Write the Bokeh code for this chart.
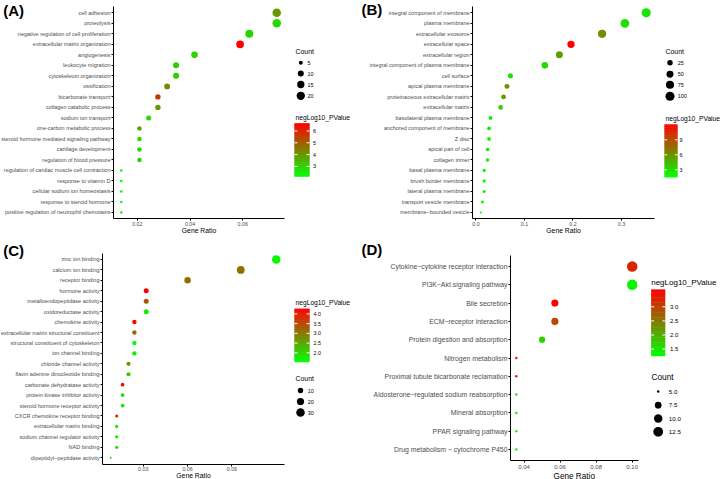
import numpy as np
from bokeh.plotting import figure
from bokeh.models import (ColumnDataSource, Range1d, FixedTicker,
                          PrintfTickFormatter, LinearColorMapper, Label)
from bokeh.layouts import row, column
from bokeh.core.properties import value
from bokeh.embed import file_html
from bokeh.resources import INLINE

# ---------------- data ----------------
A_terms = ["cell adhesion", "proteolysis", "negative regulation of cell proliferation",
           "extracellular matrix organization", "angiogenesis", "leukocyte migration",
           "cytoskeleton organization", "ossification", "bicarbonate transport",
           "collagen catabolic process", "sodium ion transport", "one-carbon metabolic process",
           "steroid hormone mediated signaling pathway", "cartilage development",
           "regulation of blood pressure", "regulation of cardiac muscle cell contraction",
           "response to vitamin D", "cellular sodium ion homeostasis",
           "response to steroid hormone", "positive regulation of neutrophil chemotaxis"]
A_ratio = [0.0729, 0.0729, 0.0625, 0.0590, 0.0417, 0.0347, 0.0347, 0.0313, 0.0278, 0.0278,
           0.0243, 0.0208, 0.0208, 0.0208, 0.0208, 0.0139, 0.0139, 0.0139, 0.0139, 0.0139]
A_count = [21, 21, 18, 17, 12, 10, 10, 9, 8, 8, 7, 6, 6, 6, 6, 4, 4, 4, 4, 4]
A_logp = [3.95, 2.80, 2.90, 6.66, 2.95, 3.00, 3.00, 4.30, 5.65, 3.95,
          2.80, 3.70, 2.80, 2.80, 2.80, 2.30, 2.25, 2.30, 2.12, 2.30]
A_breaks = [5, 10, 15, 20]
A_break_labels = ["5", "10", "15", "20"]
A_xticks = [0.02, 0.04, 0.06]
A_cticks = [3, 4, 5, 6]

B_terms = ["integral component of membrane", "plasma membrane", "extracellular exosome",
           "extracellular space", "extracellular region", "integral component of plasma membrane",
           "cell surface", "apical plasma membrane", "proteinaceous extracellular matrix",
           "extracellular matrix", "basolateral plasma membrane", "anchored component of membrane",
           "Z disc", "apical part of cell", "collagen trimer", "basal plasma membrane",
           "brush border membrane", "lateral plasma membrane", "transport vesicle membrane",
           "membrane\u2212bounded vesicle"]
B_ratio = [0.351, 0.307, 0.260, 0.196, 0.172, 0.142, 0.071, 0.064, 0.057, 0.051,
           0.030, 0.027, 0.027, 0.024, 0.024, 0.017, 0.017, 0.017, 0.0135, 0.010]
B_count = [104, 91, 77, 58, 51, 42, 21, 19, 17, 15, 9, 8, 8, 7, 7, 5, 5, 5, 4, 3]
B_logp = [2.5, 2.7, 6.2, 12.06, 5.5, 3.05, 2.7, 6.2, 5.5, 3.4,
          2.3, 2.1, 2.1, 2.3, 2.3, 2.0, 2.0, 2.0, 1.8, 1.46]
B_breaks = [25, 50, 75, 100]
B_break_labels = ["25", "50", "75", "100"]
B_xticks = [0.0, 0.1, 0.2, 0.3]
B_cticks = [3, 6, 9]

C_terms = ["zinc ion binding", "calcium ion binding", "receptor binding", "hormone activity",
           "metalloendopeptidase activity", "oxidoreductase activity", "chemokine activity",
           "extracellular matrix structural constituent", "structural constituent of cytoskeleton",
           "ion channel binding", "chloride channel activity", "flavin adenine dinucleotide binding",
           "carbonate dehydratase activity", "protein kinase inhibitor activity",
           "steroid hormone receptor activity", "CXCR chemokine receptor binding",
           "extracellular matrix binding", "sodium channel regulator activity", "NAD binding",
           "dipeptidyl\u2212peptidase activity"]
C_ratio = [0.120, 0.096, 0.060, 0.032, 0.032, 0.032, 0.024, 0.024, 0.024, 0.024,
           0.020, 0.020, 0.016, 0.016, 0.016, 0.012, 0.012, 0.012, 0.012, 0.008]
C_count = [30, 24, 15, 8, 8, 8, 6, 6, 6, 6, 5, 5, 4, 4, 4, 3, 3, 3, 3, 2]
C_logp = [1.60, 3.03, 3.11, 4.26, 3.30, 1.74, 4.20, 3.16, 1.52, 1.66,
          2.75, 2.07, 4.12, 1.85, 1.85, 3.71, 1.80, 1.80, 1.85, 1.80]
C_breaks = [10, 20, 30]
C_break_labels = ["10", "20", "30"]
C_xticks = [0.03, 0.06, 0.09]
C_cticks = [2.0, 2.5, 3.0, 3.5, 4.0]

D_terms = ["Cytokine\u2212cytokine receptor interaction", "PI3K\u2212Akt signaling pathway",
           "Bile secretion", "ECM\u2212receptor interaction", "Protein digestion and absorption",
           "Nitrogen metabolism", "Proximal tubule bicarbonate reclamation",
           "Aldosterone\u2212regulated sodium reabsorption", "Mineral absorption",
           "PPAR signaling pathway", "Drug metabolism \u2212 cytochrome P450"]
D_ratio = [0.100, 0.100, 0.0571, 0.0571, 0.050, 0.0357, 0.0357, 0.0357, 0.0357, 0.0357, 0.0357]
D_count = [14, 14, 8, 8, 7, 5, 5, 5, 5, 5, 5]
D_logp = [3.26, 1.35, 3.61, 2.95, 1.72, 3.50, 3.50, 1.55, 1.30, 1.25, 1.30]
D_breaks = [5.0, 7.5, 10.0, 12.5]
D_break_labels = ["5.0", "7.5", "10.0", "12.5"]
D_xticks = [0.04, 0.06, 0.08, 0.10]
D_cticks = [1.5, 2.0, 2.5, 3.0]

# ---------------- styling / layout ----------------
FONT = "Liberation Sans"
PAL = ["#%02x%02x00" % (int(round(255 * t)), int(round(255 * (1 - t))))
       for t in np.linspace(0, 1, 256)]


def px(v):
    return "%.2fpx" % v


def build_panel(tag, terms, ratio, count, logp, xticks, xfmt, breaks, break_labels,
                cticks, cfmt, g):
    W, H, mw = g["pw"], g["ph"], g["mw"]
    lw = W - mw
    fl, fr, ft, fb = g["fl"], g["fr"], g["ft"], g["fb"]
    n = len(terms)

    lo, hi = min(ratio), max(ratio)
    pad = 0.05 * (hi - lo)
    x0, x1 = lo - pad, hi + pad
    kx = (fr - fl) / (x1 - x0)
    X0, X1 = x0 - fl / kx, x1 + (mw - fr) / kx
    ylo, yhi = -0.6, n - 1 + 0.6
    ky = (fb - ft) / (yhi - ylo)
    Y0, Y1 = ylo - (H - fb) / ky, yhi + ft / ky

    def dx(v):
        return X0 + v / kx

    def dy(v):
        return Y1 - v / ky

    ypos = [n - 1 - i for i in range(n)]
    cmin, cmax = min(count), max(count)
    plo, phi = min(logp), max(logp)

    def size_of(c):
        c = np.asarray(c, dtype=float)
        return g["sa"] + g["sb"] * np.sqrt(np.clip((c - cmin) / (cmax - cmin), 0, None))

    mapper = LinearColorMapper(palette=PAL, low=plo, high=phi)
    src = ColumnDataSource(dict(term=terms, pos=ypos, ratio=ratio, count=count, logp=logp,
                                size=size_of(count)))
    p = figure(width=mw, height=H, x_range=Range1d(X0, X1), y_range=Range1d(Y0, Y1),
               output_backend="svg", toolbar_location=None, min_border=0)
    p.scatter("ratio", "pos", size="size", source=src,
              fill_color={"field": "logp", "transform": mapper}, line_color=None)
    p.outline_line_color = None
    p.xgrid.grid_line_color = None
    p.ygrid.grid_line_color = None
    for ax in (p.xaxis[0], p.yaxis[0]):
        ax.axis_line_color = "black"
        ax.axis_line_width = 1
        ax.major_tick_line_color = "black"
        ax.major_tick_out = 2
        ax.major_tick_in = 0
        ax.minor_tick_line_color = None
        ax.major_label_text_font = FONT
        ax.major_label_text_color = "#4d4d4d"
    # y axis: categories, drawn at the left edge of the data area
    p.yaxis.fixed_location = x0
    p.yaxis.bounds = (ylo, yhi)
    p.yaxis.ticker = FixedTicker(ticks=ypos)
    p.yaxis.major_label_overrides = {pos: t for pos, t in zip(ypos, terms)}
    p.yaxis.major_label_text_font_size = px(g["ylfs"])
    p.yaxis.major_label_standoff = 1
    # x axis: gene ratio
    p.xaxis.fixed_location = ylo
    p.xaxis.bounds = (x0, x1)
    p.xaxis.ticker = FixedTicker(ticks=xticks)
    p.xaxis.formatter = PrintfTickFormatter(format=xfmt)
    p.xaxis.major_label_text_font_size = px(g["xtfs"])
    p.xaxis.major_label_standoff = g["xls"]
    p.add_layout(Label(x=dx((fl + fr) / 2), y=dy(g["gly"]), text="Gene Ratio",
                       text_font=FONT, text_font_size=px(g["xlfs"]),
                       text_baseline="middle", text_align="center", text_color="black"))
    # panel tag
    p.add_layout(Label(x=dx(g["tx"]), y=dy(g["ty"]), text=tag,
                       text_font=FONT, text_font_size=px(g["tfs"]),
                       text_font_style="bold", text_baseline="middle",
                       text_align="left", text_color="black"))

    # legend figure (1 data unit = 1 px, y downwards)
    lg = figure(width=lw, height=H, x_range=Range1d(0, lw), y_range=Range1d(H, 0),
                min_border=0, x_axis_type=None, y_axis_type=None,
                output_backend="svg", toolbar_location=None)
    lg.outline_line_color = None

    def lx(v):
        return v - mw

    txt = dict(text_font=value(FONT), text_baseline="middle", text_align="left",
               text_color="black")
    # size legend
    lg.text(x=[lx(g["ctx"])], y=[g["cty"]], text=["Count"],
            text_font_size=value(px(g["cfs"])), **txt)
    lg.scatter(x=[lx(g["ccx"])] * len(breaks), y=g["cys"], size=size_of(breaks),
               fill_color="black", line_color=None)
    lg.text(x=[lx(g["clx"])] * len(breaks), y=g["cys"], text=break_labels,
            text_font_size=value(px(g["clfs"])), **txt)

    # colour bar
    cbl, cbr = lx(g["cbl"]), lx(g["cbl"]) + g["cbw"]
    cbt, cbb = g["cbt"], g["cbb"]
    lg.text(x=[lx(g["cbtx"])], y=[g["cbty"]], text=["negLog10_PValue"],
            text_font_size=value(px(g["cbtfs"])), **txt)
    nseg = 80
    edges = np.linspace(cbb, cbt, nseg + 1)
    segcols = [PAL[int(round(i / (nseg - 1) * 255))] for i in range(nseg)]
    lg.quad(left=cbl, right=cbr, bottom=edges[:-1], top=np.maximum(edges[1:] - 0.6, cbt),
            fill_color=segcols, line_color=None)

    def vy(v):
        return cbb - (v - plo) / (phi - plo) * (cbb - cbt)

    tys = [vy(v) for v in cticks]
    tw = g["cbw"] / 5.0
    lg.segment(x0=[cbl] * len(tys), x1=[cbl + tw] * len(tys), y0=tys, y1=tys,
               line_color="white", line_width=1)
    lg.segment(x0=[cbr - tw] * len(tys), x1=[cbr] * len(tys), y0=tys, y1=tys,
               line_color="white", line_width=1)
    lg.text(x=[lx(g["cblx"])] * len(tys), y=tys, text=[cfmt % v for v in cticks],
            text_font_size=value(px(g["cblfs"])), **txt)
    return p, lg


gA = dict(pw=360, ph=240, mw=288, fl=113, fr=284, ft=6, fb=218.3, tx=2.7, ty=9.7, tfs=15,
          ylfs=5.5, xtfs=5.3, xlfs=6.8, xls=1, gly=230, sa=2.5, sb=6.0,
          ctx=295, cty=51, ccx=300.3, clx=307, cys=[62.3, 73, 84, 95.3], cfs=6.9, clfs=5.4,
          cbtx=295, cbty=117, cbl=294, cbw=15, cbt=122.7, cbb=176.3, cblx=312.5,
          cbtfs=6.7, cblfs=5.3)
gB = dict(pw=360, ph=240, mw=298, fl=112, fr=294, ft=6, fb=218.3, tx=1, ty=9.2, tfs=15,
          ylfs=5.5, xtfs=5.3, xlfs=6.8, xls=1, gly=230, sa=2.2, sb=7.0,
          ctx=305, cty=51, ccx=309.5, clx=317.3, cys=[62.3, 73.7, 84.3, 95.7], cfs=6.9,
          clfs=5.4, cbtx=305, cbty=117.5, cbl=304, cbw=13, cbt=124, cbb=177, cblx=319,
          cbtfs=6.7, cblfs=5.3)
gC = dict(pw=360, ph=239, mw=288, fl=102, fr=284, ft=12.7, fb=223.5, tx=2.7, ty=9.7, tfs=15,
          ylfs=5.5, xtfs=5.3, xlfs=6.8, xls=1, gly=235.3, sa=2.0, sb=6.5,
          ctx=295, cty=137.7, ccx=300, clx=307.3, cys=[150, 161, 172], cfs=6.9, clfs=5.4,
          cbtx=295, cbty=61.5, cbl=294, cbw=15, cbt=68.3, cbb=121.7, cblx=313,
          cbtfs=6.7, cblfs=5.3)
gD = dict(pw=360, ph=239, mw=282, fl=150, fr=277.5, ft=15, fb=220, tx=1, ty=8.5, tfs=15,
          ylfs=6.9, xtfs=6.0, xlfs=8.2, xls=2, gly=235.5, sa=2.5, sb=8.0,
          ctx=291, cty=136.7, ccx=297.7, clx=308.3, cys=[151, 164.7, 178, 191.3], cfs=8.3,
          clfs=6.2, cbtx=290.7, cbty=42.3, cbl=290.7, cbw=14, cbt=49, cbb=115.7, cblx=309.5,
          cbtfs=8.0, cblfs=6.0)

pA, lA = build_panel("(A)", A_terms, A_ratio, A_count, A_logp, A_xticks, "%.2f",
                     A_breaks, A_break_labels, A_cticks, "%d", gA)
pB, lB = build_panel("(B)", B_terms, B_ratio, B_count, B_logp, B_xticks, "%.1f",
                     B_breaks, B_break_labels, B_cticks, "%d", gB)
pC, lC = build_panel("(C)", C_terms, C_ratio, C_count, C_logp, C_xticks, "%.2f",
                     C_breaks, C_break_labels, C_cticks, "%.1f", gC)
pD, lD = build_panel("(D)", D_terms, D_ratio, D_count, D_logp, D_xticks, "%.2f",
                     D_breaks, D_break_labels, D_cticks, "%.1f", gD)

layout = column(row(pA, lA, pB, lB), row(pC, lC, pD, lD))

open("out.html", "w").write(file_html(layout, INLINE, title="GO/KEGG enrichment"))
